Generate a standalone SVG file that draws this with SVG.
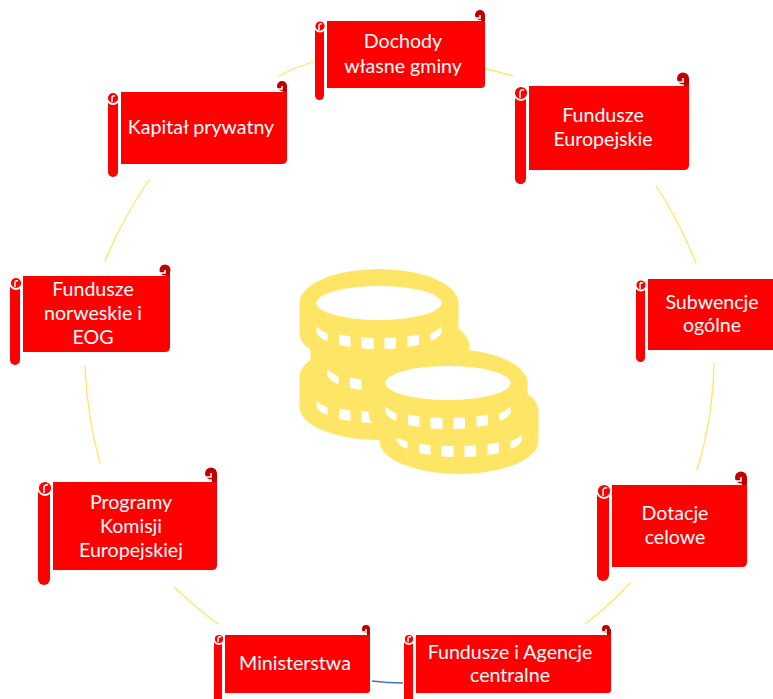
<svg xmlns="http://www.w3.org/2000/svg" width="773" height="699" viewBox="0 0 773 699">
<style>
.b{fill:#f00}
.k{fill:none;stroke:#ffe566;stroke-width:1.3;stroke-linecap:round}
.r{fill:#f00;stroke:#fff;stroke-width:1.8}
.c{fill:#c00000}
.w{fill:#fff}
.y{fill:#ffe566}
.u{fill:none;stroke:#fff;stroke-width:1.5}
text{font-family:"Lato","Open Sans",sans-serif;font-size:19.6px;fill:#fff;text-anchor:middle}
</style>
<defs>
<path id="coin" d="M-79.5,0A79.5,34 0 0 1 79.5,0V30A79.5,33 0 0 1-79.5,30Z"/>
<g id="winL">
<path d="M-62.5,23.5Q-58,28-51.5,30.5V38Q-60,35-62.5,30Z"/>
<path d="M-40,31.5L-28.5,33.5V44L-40,42Z"/>
</g>
<path id="win3" d="M-17.5,34.5L-5.5,35V46L-17.5,45.5Z"/>
<g id="winR">
<path d="M5.5,35L17,34.5V45.5L5.5,46Z"/>
<path d="M28.5,33.5L40,31.5V42L28.5,44Z"/>
<path d="M51.5,30.5Q58,28,62.5,23.5V30Q60,35,51.5,38Z"/>
</g>
</defs>
<g id="connectors">
<path class="k" d="M279,76Q296,67 313,62"/>
<path class="k" d="M486,69Q500,72 513,76"/>
<path class="k" d="M656,186Q680,222 696,263"/>
<path class="k" d="M714,363Q713,418 697,470"/>
<path class="k" d="M630,583Q609,606 585,624"/>
<path d="M372,681Q388,683 403,683" fill="none" stroke="#4472c4" stroke-width="1.3"/>
<path class="k" d="M218,624Q195,607 174,587"/>
<path class="k" d="M100,463Q87,416 85,366"/>
<path class="k" d="M105,261Q122,219 149,180"/>
</g>
<g id="coins" class="y">
<use href="#coin" x="379" y="377"/>
<g transform="translate(379,377)" class="w"><use href="#winL"/><use href="#win3"/></g>
<use href="#coin" x="390" y="346"/>
<g transform="translate(390,346)" class="w"><use href="#winL"/></g>
<use href="#coin" x="379" y="303"/>
<g transform="translate(379,303)" class="w"><use href="#winL"/><use href="#win3"/><use href="#winR"/></g>
<ellipse class="w" cx="379" cy="303" rx="62.5" ry="17"/>
<use href="#coin" x="459" y="411"/>
<g transform="translate(459,411)" class="w"><use href="#winL"/><use href="#win3"/><use href="#winR"/></g>
<use href="#coin" x="448" y="383"/>
<g transform="translate(448,383)" class="w"><use href="#winL"/><use href="#win3"/><use href="#winR"/></g>
<ellipse class="w" cx="448" cy="383" rx="62.5" ry="17"/>
</g>
<g id="n-dochody">
<circle class="c" cx="480" cy="15" r="5"/><path class="c" d="M481,15H485V21H481Z"/><path class="u" d="M474,18H480V15"/>
<path class="b" d="M327,21H485V84Q485,88 481,88H327Z"/><rect class="b" x="315" y="24" width="9" height="76" rx="4.500"/>
<circle class="r" cx="320" cy="26" r="5.500"/><path class="u" d="M319,30V25Q320,23 322,24"/>
<text x="403" y="48">Dochody</text><text x="403" y="73">własne gminy</text>
</g>
<g id="n-europejskie">
<circle class="c" cx="683" cy="78.500" r="6"/><path class="c" d="M684,78H689V86H684Z"/><path class="u" d="M676,82H683V78"/>
<path class="b" d="M529,86H689V165Q689,170 684,170H529Z"/><rect class="b" x="515" y="90" width="11" height="94" rx="5.500"/>
<circle class="r" cx="521" cy="93" r="7"/><path class="u" d="M520,98V92Q521,89 524,90"/>
<text x="603" y="122">Fundusze</text><text x="603" y="146">Europejskie</text>
</g>
<g id="n-kapital">
<circle class="c" cx="282" cy="86" r="5"/><path class="c" d="M283,86H287V92H283Z"/><path class="u" d="M276,89H282V86"/>
<path class="b" d="M121,92H287V159Q287,164 282,164H121Z"/><rect class="b" x="108" y="95" width="10" height="82" rx="5"/>
<circle class="r" cx="113" cy="98" r="6"/><path class="u" d="M112,102V97Q113,95 115,96"/>
<text x="201" y="134">Kapitał prywatny</text>
</g>
<g id="n-subwencje">
<path class="b" d="M648,279H773V350H648Z"/><rect class="b" x="636" y="282" width="9" height="80" rx="4.500"/>
<circle class="r" cx="641" cy="285" r="5.500"/><path class="u" d="M640,289V284Q641,282 643,283"/>
<text x="712" y="309">Subwencje</text><text x="712" y="332">ogólne</text>
</g>
<g id="n-norweskie">
<circle class="c" cx="165" cy="270" r="5.500"/><path class="c" d="M166,270H170V276H166Z"/><path class="u" d="M159,273H165V270"/>
<path class="b" d="M23,276H170V347Q170,352 165,352H23Z"/><rect class="b" x="10" y="280" width="10" height="85" rx="5"/>
<circle class="r" cx="16" cy="283" r="6"/><path class="u" d="M15,287V282Q16,280 18,281"/>
<text x="93" y="296">Fundusze</text><text x="93" y="320">norweskie i</text><text x="93" y="344">EOG</text>
</g>
<g id="n-dotacje">
<circle class="c" cx="741" cy="477.500" r="6"/><path class="c" d="M742,477H747V485H742Z"/><path class="u" d="M734,481H741V477"/>
<path class="b" d="M612,485H747V562Q747,567 742,567H612Z"/><rect class="b" x="597" y="488" width="12" height="93" rx="6"/>
<circle class="r" cx="604" cy="491" r="7"/><path class="u" d="M603,496V490Q604,487 607,488"/>
<text x="675" y="520">Dotacje</text><text x="675" y="544">celowe</text>
</g>
<g id="n-programy">
<circle class="c" cx="211" cy="473.500" r="6"/><path class="c" d="M212,473H217V482H212Z"/><path class="u" d="M204,477H211V473"/>
<path class="b" d="M53,482H217V565Q217,570 212,570H53Z"/><rect class="b" x="38" y="484" width="12" height="101" rx="6"/>
<circle class="r" cx="45" cy="488" r="7"/><path class="u" d="M44,493V487Q45,484 48,485"/>
<text x="131" y="509">Programy</text><text x="131" y="533">Komisji</text><text x="131" y="557">Europejskiej</text>
</g>
<g id="n-ministerstwa">
<circle class="c" cx="366" cy="629" r="4"/><path class="c" d="M367,629H370V635H367Z"/><path class="u" d="M361,632H366V629"/>
<path class="b" d="M225,635H370V690Q370,693 367,693H225Z"/><rect class="b" x="214" y="637" width="8" height="70" rx="4"/>
<circle class="r" cx="219" cy="639" r="5"/><path class="u" d="M218,642V638Q219,636 221,637"/>
<text x="295" y="670">Ministerstwa</text>
</g>
<g id="n-agencje">
<circle class="c" cx="606" cy="629" r="4"/><path class="c" d="M607,629H611V635H607Z"/><path class="u" d="M601,632H606V629"/>
<path class="b" d="M416,635H611V690Q611,693 608,693H416Z"/><rect class="b" x="404" y="637" width="9" height="70" rx="4.500"/>
<circle class="r" cx="409" cy="639" r="5"/><path class="u" d="M408,642V638Q409,636 411,637"/>
<text x="510" y="659">Fundusze i Agencje</text><text x="510" y="682">centralne</text>
</g>
</svg>
